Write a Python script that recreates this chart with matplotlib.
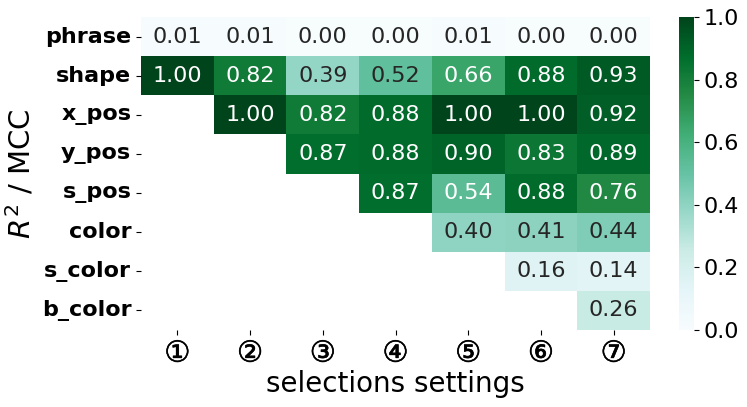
import numpy as np
import matplotlib
matplotlib.use("Agg")
import matplotlib.pyplot as plt
import matplotlib.patheffects as pe
import seaborn as sns

rows = ["phrase", "shape", "x_pos", "y_pos", "s_pos", "color", "s_color", "b_color"]
cols = ["①", "②", "③", "④", "⑤", "⑥", "⑦"]
nan = np.nan
phrase  = [0.01, 0.01, 0.00, 0.00, 0.01, 0.00, 0.00]
shape   = [1.00, 0.82, 0.39, 0.52, 0.66, 0.88, 0.93]
x_pos   = [nan, 1.00, 0.82, 0.88, 1.00, 1.00, 0.92]
y_pos   = [nan, nan, 0.87, 0.88, 0.90, 0.83, 0.89]
s_pos   = [nan, nan, nan, 0.87, 0.54, 0.88, 0.76]
color   = [nan, nan, nan, nan, 0.40, 0.41, 0.44]
s_color = [nan, nan, nan, nan, nan, 0.16, 0.14]
b_color = [nan, nan, nan, nan, nan, nan, 0.26]

data = np.array([phrase, shape, x_pos, y_pos, s_pos, color, s_color, b_color])

fig = plt.figure(figsize=(7.47, 4.07), dpi=100)
ax = fig.add_axes([141/747, 1-330/407, 509/747, 313/407])
cax = fig.add_axes([679/747, 1-330/407, 15/747, 313/407])

sns.heatmap(data, ax=ax, cbar_ax=cax, cmap="BuGn", vmin=0, vmax=1,
            annot=True, fmt=".2f", annot_kws={"fontsize": 16},
            xticklabels=cols, yticklabels=rows, mask=np.isnan(data))

ax.set_yticklabels(rows, rotation=0, fontsize=16, fontweight="bold")
ax.set_xticklabels(cols, rotation=0, fontsize=21)
for t in ax.get_xticklabels():
    t.set_path_effects([pe.withStroke(linewidth=0.4, foreground="black")])
ax.set_xlabel("selections settings", fontsize=20, labelpad=2)
ax.set_ylabel("$R^2$ / MCC", fontsize=21)
cax.tick_params(labelsize=16)
cax.set_yticks([0, 0.2, 0.4, 0.6, 0.8, 1.0])
cax.set_yticklabels(["0.0", "0.2", "0.4", "0.6", "0.8", "1.0"])

fig.savefig("out.png", dpi=100)
